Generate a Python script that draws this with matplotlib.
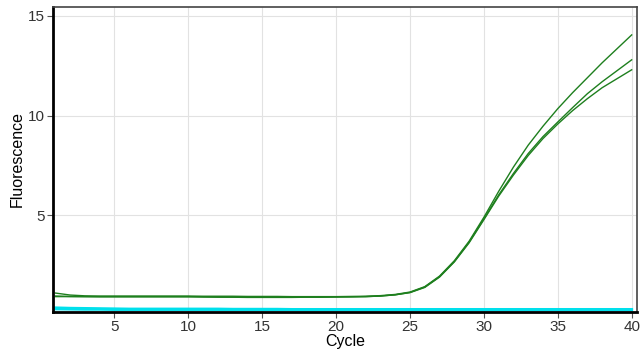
import matplotlib.pyplot as plt

# qPCR amplification curves
cycles = list(range(1, 41))

rep_a = [1.10, 1.00, 0.96, 0.95, 0.95, 0.95, 0.95, 0.95, 0.95, 0.95,
         0.94, 0.94, 0.94, 0.93, 0.93, 0.93, 0.92, 0.92, 0.92, 0.92,
         0.93, 0.94, 0.97, 1.03, 1.15, 1.42, 1.95, 2.72, 3.70, 4.90,
         6.20, 7.42, 8.52, 9.47, 10.35, 11.15, 11.90, 12.65, 13.35, 14.05]
rep_b = [0.95, 0.93, 0.92, 0.92, 0.92, 0.92, 0.92, 0.92, 0.92, 0.92,
         0.90, 0.89, 0.89, 0.88, 0.88, 0.88, 0.88, 0.89, 0.89, 0.90,
         0.91, 0.92, 0.95, 1.01, 1.13, 1.40, 1.92, 2.68, 3.65, 4.82,
         6.02, 7.10, 8.10, 8.95, 9.68, 10.40, 11.10, 11.70, 12.25, 12.80]
rep_c = [0.92, 0.92, 0.92, 0.91, 0.91, 0.91, 0.91, 0.91, 0.91, 0.91,
         0.91, 0.91, 0.90, 0.90, 0.90, 0.90, 0.90, 0.90, 0.90, 0.91,
         0.91, 0.92, 0.95, 1.01, 1.12, 1.38, 1.90, 2.66, 3.62, 4.78,
         5.96, 7.02, 8.00, 8.85, 9.58, 10.25, 10.85, 11.40, 11.85, 12.30]
green_reps = [rep_a, rep_b, rep_c]

neg_a = [0.36, 0.34, 0.33, 0.32, 0.31, 0.30, 0.30, 0.30, 0.30, 0.30,
         0.30, 0.30, 0.29, 0.29, 0.29, 0.29, 0.28, 0.28, 0.28, 0.28,
         0.28, 0.28, 0.28, 0.28, 0.28, 0.28, 0.28, 0.28, 0.28, 0.28,
         0.28, 0.28, 0.28, 0.28, 0.28, 0.28, 0.28, 0.28, 0.28, 0.28]
neg_b = [0.30, 0.29, 0.28, 0.28, 0.27, 0.27, 0.27, 0.27, 0.27, 0.27,
         0.27, 0.27, 0.26, 0.26, 0.26, 0.26, 0.26, 0.25, 0.25, 0.25,
         0.25, 0.25, 0.25, 0.25, 0.25, 0.25, 0.25, 0.25, 0.25, 0.25,
         0.25, 0.25, 0.25, 0.25, 0.25, 0.25, 0.25, 0.25, 0.25, 0.25]
cyan_reps = [neg_a, neg_b]

xticks = [5, 10, 15, 20, 25, 30, 35, 40]
yticks = [5, 10, 15]


def main():
    plt.rcParams['font.family'] = ['Liberation Sans', 'DejaVu Sans']
    fig = plt.figure(figsize=(6.42, 3.59), dpi=100)
    ax = fig.add_axes([0.0826, 0.131, 0.9094, 0.8495])

    for ys in cyan_reps:
        ax.plot(cycles, ys, '-', color='#00e0ec', lw=2.0)
    for ys in green_reps:
        ax.plot(cycles, ys, '-', color='#1e7f1e', lw=1.0)

    ax.set_xlim(0.85, 40.35)
    ax.set_ylim(0.15, 15.45)
    ax.set_xticks(xticks)
    ax.set_yticks(yticks)
    ax.grid(color='#e2e2e2', lw=0.8)
    ax.set_axisbelow(True)

    ax.tick_params(labelsize=11, labelcolor='#333333', length=4, width=0.8, color='#555555', pad=2)
    for side in ['left', 'bottom']:
        ax.spines[side].set_linewidth(2.0)
        ax.spines[side].set_color('black')
    for side in ['top', 'right']:
        ax.spines[side].set_linewidth(1.2)
        ax.spines[side].set_color('#444444')

    ax.set_xlabel('Cycle', fontsize=11.5, labelpad=0)
    ax.set_ylabel('Fluorescence', fontsize=11.5, labelpad=2)

    fig.savefig('out.png', dpi=100)


if __name__ == '__main__':
    main()
